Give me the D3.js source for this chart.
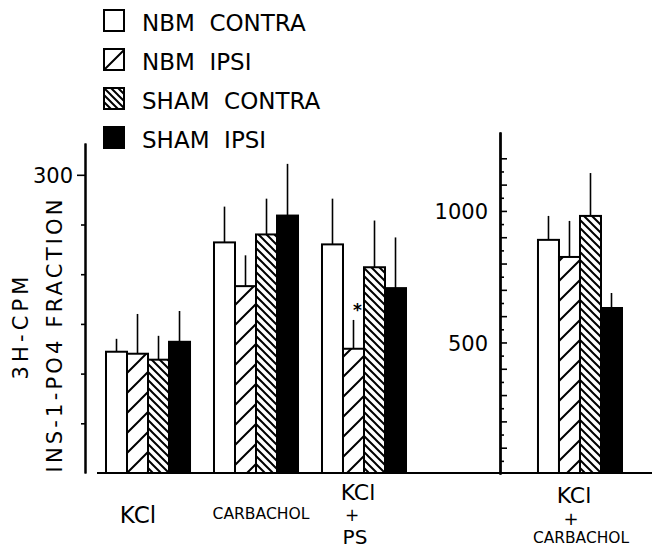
<!DOCTYPE html>
<html>
<head>
<meta charset="utf-8">
<script src="https://cdn.jsdelivr.net/npm/d3@7"></script>
<style>
body { margin: 0; background: #fff; }
text { font-family: "DejaVu Sans", sans-serif; fill: #000; }
</style>
</head>
<body>
<svg id="chart" width="652" height="548"></svg>
<script>
"use strict";

var groups = ["KCl", "CARBACHOL", "KCl + PS", "KCl + CARBACHOL"];
var slots = ["KCl", "CARBACHOL", "KCl + PS", "", "KCl + CARBACHOL"];
var series = ["NBM CONTRA", "NBM IPSI", "SHAM CONTRA", "SHAM IPSI"];

// means and error bar lengths
var nbmContra = [122, 232, 230, 890];
var nbmContraErr = [13, 36, 46, 91];
var nbmIpsi = [120, 188, 125, 825];
var nbmIpsiErr = [40, 31, 29, 137];
var shamContra = [114, 240, 207, 981];
var shamContraErr = [24, 36, 47, 163];
var shamIpsi = [132, 259, 186, 631];
var shamIpsiErr = [31, 52, 51, 57];

var leftMinorTicks = [50, 100, 150, 200, 250];
var leftLabelTicks = [300];
var rightMajorTicks = [100, 200, 300, 400, 500, 600, 700, 800, 900, 1000, 1100, 1200];
var rightMinorTicks = [50, 150, 250, 350, 450, 550, 650, 750, 850, 950, 1050, 1150];
var rightLabelTicks = [500, 1000];

var values = [nbmContra, nbmIpsi, shamContra, shamIpsi];
var errors = [nbmContraErr, nbmIpsiErr, shamContraErr, shamIpsiErr];
var fills = ["#fff", "url(#hatchUp)", "url(#hatchDown)", "#000"];

var svg = d3.select("#chart");
var baseY = 473;

var yLeft = d3.scaleLinear().domain([0, 332]).range([baseY, 143]);
var yRight = d3.scaleLinear().domain([0, 1300]).range([baseY + 1, 132]);
var x = d3.scaleBand().domain(slots).range([106, 622]).paddingInner(0.222);
var xs = d3.scaleBand().domain(series).range([0, x.bandwidth()]);

function hatch(id, size, dir, ox, oy) {
	var d;
	if (dir === "up") {
		d = "M0," + size + "L" + size + ",0M-2,2L2,-2M" + (size - 2) + "," + (size + 2) + "L" + (size + 2) + "," + (size - 2);
	} else {
		d = "M0,0L" + size + "," + size + "M-2," + (size - 2) + "L2," + (size + 2) + "M" + (size - 2) + ",-2L" + (size + 2) + ",2";
	}
	var p = defs.append("pattern")
		.attr("id", id)
		.attr("patternUnits", "userSpaceOnUse")
		.attr("x", ox).attr("y", oy)
		.attr("width", size).attr("height", size);
	p.append("rect").attr("width", size).attr("height", size).attr("fill", "#fff");
	p.append("path").attr("d", d).attr("stroke", "#000").attr("stroke-width", 2);
}

var defs = svg.append("defs");
hatch("hatchUp", 20, "up", 0, 0);
hatch("hatchDown", 8, "down", 0, 0);

// bars
var rows = [];
groups.forEach(function(g, gi) {
	series.forEach(function(s, si) {
		rows.push({group: g, gi: gi, series: s, si: si, value: values[si][gi], err: errors[si][gi]});
	});
});

function yFor(d) { return d.gi === 3 ? yRight : yLeft; }

svg.append("g").selectAll("line")
	.data(rows)
	.join("line")
	.attr("x1", function(d) { return x(d.group) + xs(d.series) + xs.bandwidth() / 2; })
	.attr("x2", function(d) { return x(d.group) + xs(d.series) + xs.bandwidth() / 2; })
	.attr("y1", function(d) { return yFor(d)(d.value); })
	.attr("y2", function(d) { return yFor(d)(d.value + d.err); })
	.attr("stroke", "#000")
	.attr("stroke-width", 1.6);

svg.append("g").selectAll("rect")
	.data(rows)
	.join("rect")
	.attr("x", function(d) { return x(d.group) + xs(d.series); })
	.attr("y", function(d) { return yFor(d)(d.value); })
	.attr("width", xs.bandwidth())
	.attr("height", function(d) { return baseY - yFor(d)(d.value); })
	.attr("fill", function(d) { return fills[d.si]; })
	.attr("stroke", "#000")
	.attr("stroke-width", 2);

// asterisk over NBM IPSI, KCl + PS
var star = rows.filter(function(d) { return d.group === "KCl + PS" && d.series === "NBM IPSI"; })[0];
svg.append("text")
	.attr("x", x(star.group) + xs(star.series) + xs.bandwidth() / 2 + 4)
	.attr("y", yLeft(star.value + star.err) - 4)
	.attr("text-anchor", "middle")
	.style("font-size", "17px")
	.style("font-weight", "bold")
	.text("*");

// axes
var axLeft = svg.append("g").attr("transform", "translate(85,0)");
axLeft.call(d3.axisLeft(yLeft).tickValues(leftMinorTicks).tickSize(4).tickSizeOuter(0).tickFormat(""));
axLeft.append("g").call(d3.axisLeft(yLeft).tickValues(leftLabelTicks).tickSize(8).tickSizeOuter(0).tickPadding(4).tickFormat(d3.format("d")));
var axRight = svg.append("g").attr("transform", "translate(500,0)");
axRight.call(d3.axisLeft(yRight).tickValues(rightMinorTicks).tickSize(-4).tickSizeOuter(0).tickFormat(""));
axRight.append("g").call(d3.axisLeft(yRight).tickValues(rightMajorTicks).tickSize(-7).tickSizeOuter(0).tickFormat(""));
axRight.append("g").call(d3.axisLeft(yRight).tickValues(rightLabelTicks).tickSize(0).tickSizeOuter(0).tickPadding(12).tickFormat(d3.format("d")));

svg.selectAll(".domain").attr("stroke-width", 2);
svg.selectAll(".tick line").attr("stroke-width", 1.6);
svg.selectAll(".tick text")
	.style("font-family", "\"DejaVu Sans\", sans-serif")
	.style("font-size", "21px")
	.attr("dy", "0.36em");

svg.append("line")
	.attr("x1", 97).attr("x2", 652)
	.attr("y1", baseY).attr("y2", baseY)
	.attr("stroke", "#000").attr("stroke-width", 2);

// y axis titles
svg.append("text")
	.attr("transform", "translate(28,328) rotate(-90)")
	.attr("text-anchor", "middle")
	.attr("textLength", 103).attr("lengthAdjust", "spacing")
	.style("font-size", "21px")
	.text("3H-CPM");
svg.append("text")
	.attr("transform", "translate(62,336) rotate(-90)")
	.attr("text-anchor", "middle")
	.attr("textLength", 273).attr("lengthAdjust", "spacing")
	.style("font-size", "21px")
	.text("INS-1-PO4 FRACTION");

// category labels
function label(txt, cx, cy, size, len) {
	var t = svg.append("text")
		.attr("x", cx).attr("y", cy)
		.attr("text-anchor", "middle")
		.style("font-size", size + "px")
		.text(txt);
	if (len) t.attr("textLength", len).attr("lengthAdjust", "spacingAndGlyphs");
	return t;
}
var c0 = x("KCl") + x.bandwidth() / 2;
var c1 = x("CARBACHOL") + x.bandwidth() / 2;
var c2 = x("KCl + PS") + x.bandwidth() / 2;
var c3 = x("KCl + CARBACHOL") + x.bandwidth() / 2;
label("KCl", c0 - 10, 523, 23);
label("CARBACHOL", c1 + 5, 519, 16, 97);
label("KCl", c2 - 6, 500, 22);
label("+", c2 - 12, 521, 17);
label("PS", c2 - 9, 544, 20);
label("KCl", c3 - 6, 503, 22);
label("+", c3 - 9, 525, 18);
label("CARBACHOL", c3 + 1, 543, 16, 96);

// legend
var legendY = [31, 70, 109, 148];
series.forEach(function(s, i) {
	var bx = 104, by = legendY[i] - 21;
	var fill = fills[i];
	if (i === 1) { hatch("legUp", 20, "up", bx, by + 1); fill = "url(#legUp)"; }
	if (i === 2) { hatch("legDown", 7, "down", bx, by); fill = "url(#legDown)"; }
	svg.append("rect")
		.attr("x", bx).attr("y", by)
		.attr("width", 20).attr("height", 21)
		.attr("fill", fill)
		.attr("stroke", "#000").attr("stroke-width", 2);
	svg.append("text")
		.attr("x", 142).attr("y", legendY[i])
		.style("font-size", "23px")
		.text(s.replace(" ", "\u00a0\u00a0"));
});
</script>
</body>
</html>
